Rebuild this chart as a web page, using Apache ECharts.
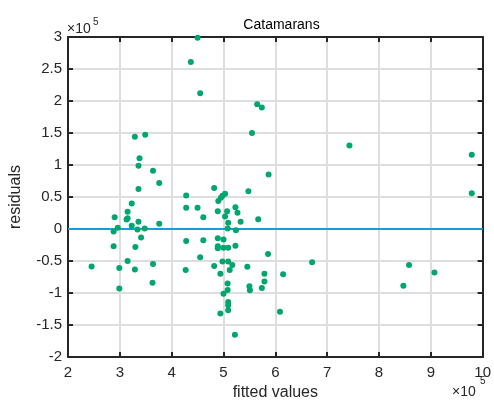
<!DOCTYPE html>
<html>
<head>
<meta charset="utf-8">
<title>Catamarans</title>
<script src="https://cdn.jsdelivr.net/npm/echarts@6/dist/echarts.min.js"></script>
<style>
  html, body { margin: 0; padding: 0; background: #fff; }
  #chart { width: 494px; height: 406px; }
</style>
</head>
<body>
<div id="chart"></div>
<script>
// Residuals of the price model for catamarans, plotted against fitted values.
const fittedValues = [
  450000, 437000, 455000, 565000, 574000, 329000, 349000, 555000, 338000, 336000,
  364000, 376000, 587000, 336000, 482000, 428000, 548000, 503000, 498000, 495000,
  490000, 323000, 290000, 315000, 313000, 315000, 336000, 323000, 296000, 288000,
  334000, 348000, 376000, 341000, 288000, 330000, 315000, 245500, 299000, 329000,
  364000, 299000, 363000, 428000, 450000, 489000, 461000, 507000, 523000, 527000,
  503000, 509000, 533000, 567000, 508000, 524000, 428000, 461000, 489000, 500000,
  489000, 489000, 500000, 509000, 523000, 455000, 498000, 509000, 482000, 517000,
  512000, 546000, 494000, 427000, 586000, 579000, 579000, 508000, 550000, 551000,
  574000, 508000, 500000, 509000, 509000, 509000, 494000, 522000, 609000, 743000,
  979000, 979000, 671000, 615000, 858000, 847000, 907000
];
const residuals = [
  299000, 261000, 212000, 195000, 190000, 144000, 147500, 150000, 110500, 99000,
  91000, 72000, 85300, 62700, 64000, 52500, 59000, 55200, 52000, 49000,
  43700, 40000, 18500, 27000, 14800, 17000, 11300, 5000, 2000, -3700,
  -600, 1000, 8200, -13000, -27000, -28000, -50000, -58600, -61000, -63000,
  -54600, -93000, -84000, 33300, 33300, 27800, 18500, 27800, 34000, 25600,
  19500, 10000, 11300, 15400, 1000, -2000, -18500, -17600, -14500, -16500,
  -27000, -30000, -29000, -29000, -26000, -44000, -50500, -50500, -57700, -56000,
  -64000, -59000, -70000, -64000, -39000, -70000, -82000, -85000, -89500, -95700,
  -92000, -95000, -101000, -114000, -119000, -127000, -132000, -165000, -129000, 130600,
  116000, 56000, -52000, -70500, -56000, -88500, -68000
];
// Axis ranges and tick spacing (raw units; labels are shown in units of 1e5)
const xRange = [200000, 1000000];
const xStep = 100000;
const yRange = [-200000, 300000];
const yStep = 50000;
const scaleExponent = 5;

const ink = '#262626';
const gridGray = '#dedede';
const dotGreen = '#00a66e';
const zeroBlue = '#139de3';
const font = '"Liberation Sans", Arial, Helvetica, sans-serif';

const points = fittedValues.map((x, i) => [x, residuals[i]]);
const scaleLabel = v => String(Math.round(v / Math.pow(10, scaleExponent) * 10) / 10);

function frameAxis(extra) {
  return Object.assign({
    type: 'value',
    axisLine: { show: true, onZero: false, lineStyle: { color: ink, width: 2 } },
    axisTick: { show: true, inside: true, length: 5, lineStyle: { color: ink, width: 2 } },
    axisLabel: { show: false },
    splitLine: { show: false }
  }, extra);
}

const chart = echarts.init(document.getElementById('chart'), null, { renderer: 'canvas' });
chart.setOption({
  backgroundColor: '#ffffff',
  animation: false,
  textStyle: { fontFamily: font },
  title: {
    text: 'Catamarans',
    left: 276.5,
    top: 13,
    textAlign: 'center',
    textStyle: { fontFamily: font, fontSize: 14, fontWeight: 'normal', color: '#000' }
  },
  grid: { left: 66, top: 37, width: 421, height: 324, containLabel: false },
  xAxis: [
    frameAxis({
      min: xRange[0], max: xRange[1], interval: xStep, position: 'bottom',
      axisLabel: { show: true, color: ink, fontSize: 15, margin: 8, formatter: scaleLabel, fontFamily: font },
      splitLine: { show: true, lineStyle: { color: gridGray, width: 2 } },
      name: 'fitted values', nameLocation: 'middle', nameGap: 27,
      nameTextStyle: { color: ink, fontSize: 16, fontFamily: font }
    }),
    frameAxis({ min: xRange[0], max: xRange[1], interval: xStep, position: 'top' })
  ],
  yAxis: [
    frameAxis({
      min: yRange[0], max: yRange[1], interval: yStep, position: 'left',
      axisLabel: { show: true, color: ink, fontSize: 15, margin: 6, formatter: scaleLabel, fontFamily: font },
      splitLine: { show: true, lineStyle: { color: gridGray, width: 2 } },
      name: 'residuals', nameLocation: 'middle', nameGap: 44, nameRotate: 90,
      nameTextStyle: { color: ink, fontSize: 16, fontFamily: font }
    }),
    frameAxis({ min: yRange[0], max: yRange[1], interval: yStep, position: 'right' })
  ],
  graphic: [
    { type: 'text', left: 67, top: 22, style: { text: '\u00d710', fill: ink, font: '14px ' + font } },
    { type: 'text', left: 93, top: 17, style: { text: String(scaleExponent), fill: ink, font: '10px ' + font } },
    { type: 'text', left: 452, top: 385, style: { text: '\u00d710', fill: ink, font: '14px ' + font } },
    { type: 'text', left: 480, top: 376, style: { text: String(scaleExponent), fill: ink, font: '10px ' + font } }
  ],
  series: [
    {
      type: 'line',
      data: [[xRange[0], 0], [xRange[1], 0]],
      symbol: 'none',
      silent: true,
      z: 1,
      lineStyle: { color: zeroBlue, width: 2 }
    },
    {
      type: 'scatter',
      data: points,
      symbol: 'circle',
      symbolSize: 6,
      z: 3,
      itemStyle: { color: dotGreen, opacity: 1 }
    }
  ]
});
</script>
</body>
</html>
